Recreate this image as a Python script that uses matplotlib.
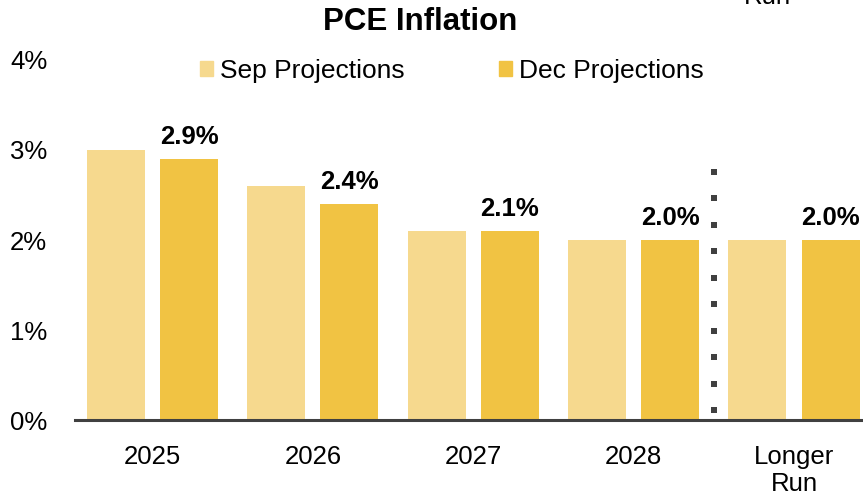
import numpy as np
import matplotlib.pyplot as plt
from matplotlib.patches import Patch

plt.rcParams['font.family'] = ['Liberation Sans', 'DejaVu Sans']

categories = ['2025', '2026', '2027', '2028', 'Longer\nRun']
sep_values = [3.0, 2.6, 2.1, 2.0, 2.0]
dec_values = [2.9, 2.4, 2.1, 2.0, 2.0]
dec_labels = ['2.9%', '2.4%', '2.1%', '2.0%', '2.0%']
y_ticks = [0, 1, 2, 3, 4]

sep_color = '#F6D98E'
dec_color = '#F1C343'
dark = '#404040'

fig = plt.figure(figsize=(8.63, 4.99), dpi=100)
ax = fig.add_axes([75 / 863, 79 / 499, 1 - 75 / 863, (439 - 79) / 499])

x = np.arange(len(categories))
width = 0.362
off = 0.228
ax.bar(x - off, sep_values, width, color=sep_color)
ax.bar(x + off, dec_values, width, color=dec_color)

for xi, v, lab in zip(x, dec_values, dec_labels):
    ax.annotate(lab, (xi + off, v), xytext=(0, 10.5), textcoords='offset points',
                ha='center', va='baseline', fontsize=18.5, fontweight='bold')

# dotted separator before the longer run group (square dots)
dots_y = np.linspace(0.111, 2.76, 10)
ax.scatter(np.full(len(dots_y), 3.5), dots_y, marker='s', s=4.3 ** 2,
           color=dark, linewidths=0, zorder=3)

ax.set_xlim(-0.483, 4.43)
ax.set_ylim(0, 4)
ax.set_yticks(y_ticks)
ax.set_yticklabels([f'{t}%' for t in y_ticks])
ax.set_xticks(x)
ax.set_xticklabels(categories, linespacing=1.15)
ax.tick_params(axis='both', length=0, labelsize=18.5)
ax.tick_params(axis='x', pad=18)
ax.tick_params(axis='y', pad=20)
for s in ['top', 'right', 'left']:
    ax.spines[s].set_visible(False)
ax.spines['bottom'].set_color(dark)
ax.spines['bottom'].set_linewidth(2.2)

handles = [Patch(color=sep_color), Patch(color=dec_color)]
fig.legend(handles, ['Sep Projections', 'Dec Projections'], loc='center',
           bbox_to_anchor=(452 / 863, 1 - 71 / 499), ncol=2, frameon=False,
           fontsize=19, handlelength=0.5, handleheight=0.5,
           handletextpad=0.27, columnspacing=3.55)

fig.text(420 / 863, 1 - 22 / 499, 'PCE Inflation', ha='center', va='center',
         fontsize=22.5, fontweight='bold')
# leftover label from the chart above, cut at the top edge
fig.text(767 / 863, 1 - 4 / 499, 'Run', ha='center', va='baseline', fontsize=18.5)

fig.savefig('out.png', dpi=100)
